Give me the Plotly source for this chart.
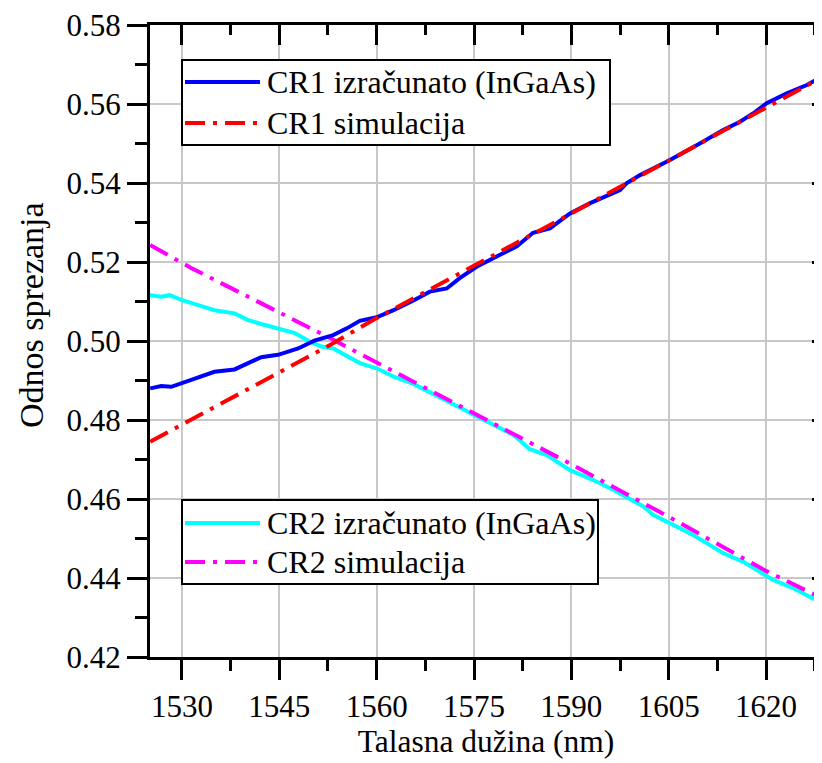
import plotly.graph_objects as go

# ---- data ----
cr1_calc_x = [1525.1, 1526.8, 1528.35, 1529.9, 1532.5, 1535.0, 1538.1, 1540.2, 1542.2, 1544.8,
              1547.9, 1550.4, 1552.5, 1553.3, 1555.4, 1557.4, 1560.0, 1562.6, 1565.6, 1568.2,
              1570.8, 1572.8, 1575.4, 1578.5, 1581.6, 1584.1, 1586.7, 1589.8, 1592.9, 1597.5,
              1598.5, 1600.6, 1603.2, 1605.2, 1609.8, 1613.4, 1616.0, 1618.0, 1620.1, 1623.2,
              1626.3, 1628.6]
cr1_calc_y = [0.4880, 0.4886, 0.4884, 0.4893, 0.4908, 0.4922, 0.4928, 0.4944, 0.4959, 0.4965,
              0.4981, 0.5001, 0.5013, 0.5015, 0.5032, 0.5051, 0.5060, 0.5078, 0.5102, 0.5125,
              0.5133, 0.5159, 0.5188, 0.5213, 0.5240, 0.5274, 0.5285, 0.5323, 0.5349, 0.5382,
              0.5399, 0.5420, 0.5441, 0.5458, 0.5500, 0.5534, 0.5555, 0.5576, 0.5602, 0.5627,
              0.5648, 0.5669]

cr1_sim_x = [1525.1, 1552.5, 1560.0, 1575.0, 1590.0, 1605.0, 1620.0, 1628.6]
cr1_sim_y = [0.4745, 0.4987, 0.5058, 0.5190, 0.5323, 0.5457, 0.5592, 0.5667]

cr2_calc_x = [1525.05, 1526.8, 1528.1, 1529.9, 1532.5, 1535.0, 1538.1, 1540.2, 1542.2, 1544.8,
              1547.4, 1549.4, 1551.5, 1553.3, 1555.4, 1557.4, 1560.0, 1562.6, 1565.6, 1568.2,
              1570.8, 1573.3, 1575.9, 1579.0, 1581.1, 1583.6, 1586.2, 1589.8, 1593.4, 1596.5,
              1598.0, 1601.1, 1602.6, 1605.2, 1608.3, 1610.9, 1613.4, 1616.5, 1618.6, 1621.1,
              1624.2, 1628.6]
cr2_calc_y = [0.5116, 0.5112, 0.5116, 0.5104, 0.5091, 0.5078, 0.5070, 0.5053, 0.5043, 0.5032,
              0.5020, 0.5001, 0.4986, 0.4981, 0.4962, 0.4944, 0.4931, 0.4910, 0.4892, 0.4870,
              0.4848, 0.4826, 0.4804, 0.4779, 0.4762, 0.4726, 0.4711, 0.4673, 0.4648, 0.4623,
              0.4610, 0.4581, 0.4560, 0.4539, 0.4513, 0.4488, 0.4463, 0.4441, 0.4420, 0.4395,
              0.4374, 0.4337]

cr2_sim_x = [1525.1, 1531.4, 1552.5, 1575.9, 1590.0, 1605.0, 1620.0, 1628.6]
cr2_sim_y = [0.5243, 0.5185, 0.5010, 0.4808, 0.4688, 0.4555, 0.4418, 0.4349]

names = ["CR1 izračunato (InGaAs)", "CR1 simulacija",
         "CR2 izračunato (InGaAs)", "CR2 simulacija"]
colors = ["#0000ff", "#ff0000", "#00ffff", "#ff00ff"]

x_ticks = [1530, 1545, 1560, 1575, 1590, 1605, 1620]
x_minor = [1537.5, 1552.5, 1567.5, 1582.5, 1597.5, 1612.5, 1627.5]
y_ticks = [0.42, 0.44, 0.46, 0.48, 0.50, 0.52, 0.54, 0.56, 0.58]
y_tick_text = ["0.42", "0.44", "0.46", "0.48", "0.50", "0.52", "0.54", "0.56", "0.58"]
y_minor = [0.43, 0.45, 0.47, 0.49, 0.51, 0.53, 0.55, 0.57]

x_title = "Talasna dužina (nm)"
y_title = "Odnos sprezanja"

x_range = [1525.07, 1628.63]
y_range = [0.42, 0.58]

# ---- layout geometry (page body adds an 8px offset) ----
OFF = 8
W, H = 822 - OFF, 763 - OFF
ML, MR, MT, MB = 150 - OFF, 0, 25 - OFF, 106
PW, PH = W - ML - MR, H - MT - MB
FONT = "Liberation Serif"
FS = 32
FS_TITLE = 31.5
FS_YTITLE = 34
FS_TICK = 31
DASH = "20px,8px,4px,8px"
LW = 4

def px(xp):
    # page pixel -> paper fraction
    return (xp - OFF - ML) / PW

def py(yp):
    return (H - MB - (yp - OFF)) / PH

fig = go.Figure()
series = [(cr1_calc_x, cr1_calc_y, "solid"), (cr1_sim_x, cr1_sim_y, DASH),
          (cr2_calc_x, cr2_calc_y, "solid"), (cr2_sim_x, cr2_sim_y, DASH)]
order = [2, 3, 0, 1]
for i in order:
    xs, ys, d = series[i]
    fig.add_trace(go.Scatter(x=xs, y=ys, mode="lines", name=names[i],
                             line=dict(color=colors[i], width=LW, dash=d),
                             showlegend=False))

# invisible trace to activate the mirrored axes
fig.add_trace(go.Scatter(x=[x_range[0]], y=[y_range[0]], xaxis="x2", yaxis="y2",
                         mode="markers", marker=dict(opacity=0), showlegend=False,
                         hoverinfo="skip"))

axis_common = dict(showline=True, linecolor="black", linewidth=3, zeroline=False,
                   tickcolor="black", tickwidth=3, ticklabeloverflow="allow",
                   tickfont=dict(family=FONT, size=FS_TICK, color="black"))

fig.update_layout(
    width=W, height=H,
    margin=dict(l=ML, r=MR, t=MT, b=MB, pad=0),
    paper_bgcolor="white", plot_bgcolor="white",
    font=dict(family=FONT, size=FS, color="black"),
    showlegend=False,
    xaxis=dict(range=x_range, tickvals=x_ticks, ticks="outside", ticklen=20,
               showgrid=True, gridcolor="#c8c8c8", gridwidth=2,
               minor=dict(tickvals=x_minor, ticks="outside", ticklen=11, tickwidth=3,
                          tickcolor="black", showgrid=False),
               title=dict(text=x_title, font=dict(family=FONT, size=FS_TITLE), standoff=6),
               **axis_common),
    yaxis=dict(range=y_range, tickvals=y_ticks, ticktext=y_tick_text, ticks="outside", ticklen=20,
               showgrid=True, gridcolor="#c8c8c8", gridwidth=2,
               minor=dict(tickvals=y_minor, ticks="outside", ticklen=12, tickwidth=3,
                          tickcolor="black", showgrid=False),
               **axis_common),
    xaxis2=dict(range=x_range, overlaying="x", side="top", anchor="y",
                tickvals=x_ticks, ticks="inside", ticklen=20, showticklabels=False,
                showgrid=False,
                minor=dict(tickvals=x_minor, ticks="inside", ticklen=10, tickwidth=3,
                           tickcolor="black", showgrid=False),
                **axis_common),
    yaxis2=dict(range=y_range, overlaying="y", side="right", anchor="x",
                tickvals=y_ticks, ticks="inside", ticklen=10, showticklabels=False,
                showgrid=False, showline=False, zeroline=False,
                tickcolor="black", tickwidth=3,
                minor=dict(tickvals=y_minor, ticks="inside", ticklen=2, tickwidth=3,
                           tickcolor="black", showgrid=False)),
)

# ---- manual legends (boxes, line samples, labels) ----
shapes = []
annotations = []
legend_boxes = [
    dict(x0=182, x1=610, y0=60, y1=145, rows=[(0, 82), (1, 123)]),
    dict(x0=182, x1=598, y0=500, y1=584, rows=[(2, 523), (3, 562)]),
]
for b in legend_boxes:
    shapes.append(dict(type="rect", xref="paper", yref="paper",
                       x0=px(b["x0"]), x1=px(b["x1"]), y0=py(b["y1"]), y1=py(b["y0"]),
                       line=dict(color="black", width=2), fillcolor="white", layer="above"))
    for idx, yrow in b["rows"]:
        shapes.append(dict(type="line", xref="paper", yref="paper",
                           x0=px(185), x1=px(260), y0=py(yrow), y1=py(yrow),
                           line=dict(color=colors[idx], width=LW,
                                     dash="solid" if idx in (0, 2) else DASH),
                           layer="above"))
        annotations.append(dict(xref="paper", yref="paper", x=px(265), y=py(yrow),
                                xanchor="left", yanchor="middle", showarrow=False,
                                text=names[idx], font=dict(family=FONT, size=FS, color="black")))

# y axis title as rotated text
annotations.append(dict(xref="paper", yref="paper", x=px(31), y=py(315),
                        xanchor="center", yanchor="middle", showarrow=False, textangle=-90,
                        text=y_title, font=dict(family=FONT, size=FS_YTITLE, color="black")))

fig.update_layout(shapes=shapes, annotations=annotations)

fig.write_html("out.html")
